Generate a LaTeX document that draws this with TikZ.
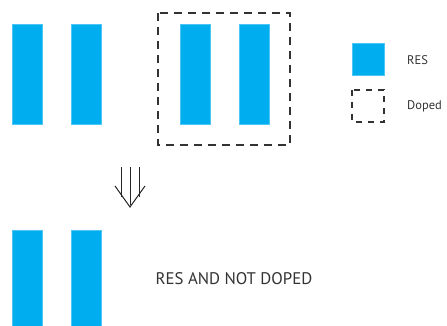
\documentclass[tikz,border=0pt]{standalone}
\usepackage{fontspec}
\setmainfont{PT Sans}
\begin{document}
\begin{tikzpicture}[x=1pt,y=-1pt,
  bar/.style={fill=resblue,draw=resblue!70!white,line width=0.4pt},
  dopedbox/.style={draw=inkgray,line width=2pt,dash pattern=on 8pt off 6pt},
  legbox/.style={draw=inkgray,line width=2pt,dash pattern=on 6pt off 6pt},
  lbl/.style={text=inkgray,inner sep=0pt,font=\fontsize{16.8}{19}\selectfont},
  leglbl/.style={text=inkgray,inner sep=0pt,anchor=west,font=\fontsize{12.5}{14}\selectfont},
  arr/.style={draw=black!85,line width=1pt}]
\definecolor{resblue}{HTML}{00AEEF}
\definecolor{inkgray}{HTML}{333333}
\useasboundingbox (0,0) rectangle (447,326);
% upper row of bars
\path[bar] (12,24) rectangle (42,124) node[midway] (b1) {};
\path[bar] (71,24) rectangle (101,124) node[midway] (b2) {};
\path[bar] (180,24) rectangle (210,124) node[midway] (b3) {};
\path[bar] (239,24) rectangle (269,124) node[midway] (b4) {};
% doped group
\draw[dopedbox] (158,13) rectangle (290,145);
% legend
\path[bar] (352,43) rectangle (384,75);
\node[leglbl] (lres) at (407,60) {RES};
\draw[legbox] (352,90) rectangle (384,122);
\node[leglbl] (ldoped) at (407,106) {Doped};
% triple arrow
\draw[arr] (121,167) -- (121,197);
\draw[arr] (130,167) -- (130,205);
\draw[arr] (139,167) -- (139,197);
\draw[arr,line join=miter] (115,186) -- (130,207) -- (145,186);
% lower row of bars
\path[bar] (12,230) rectangle (42,330);
\path[bar] (71,230) rectangle (101,330);
\node[lbl] (res) at (234,279) {RES AND NOT DOPED};
\end{tikzpicture}
\end{document}
